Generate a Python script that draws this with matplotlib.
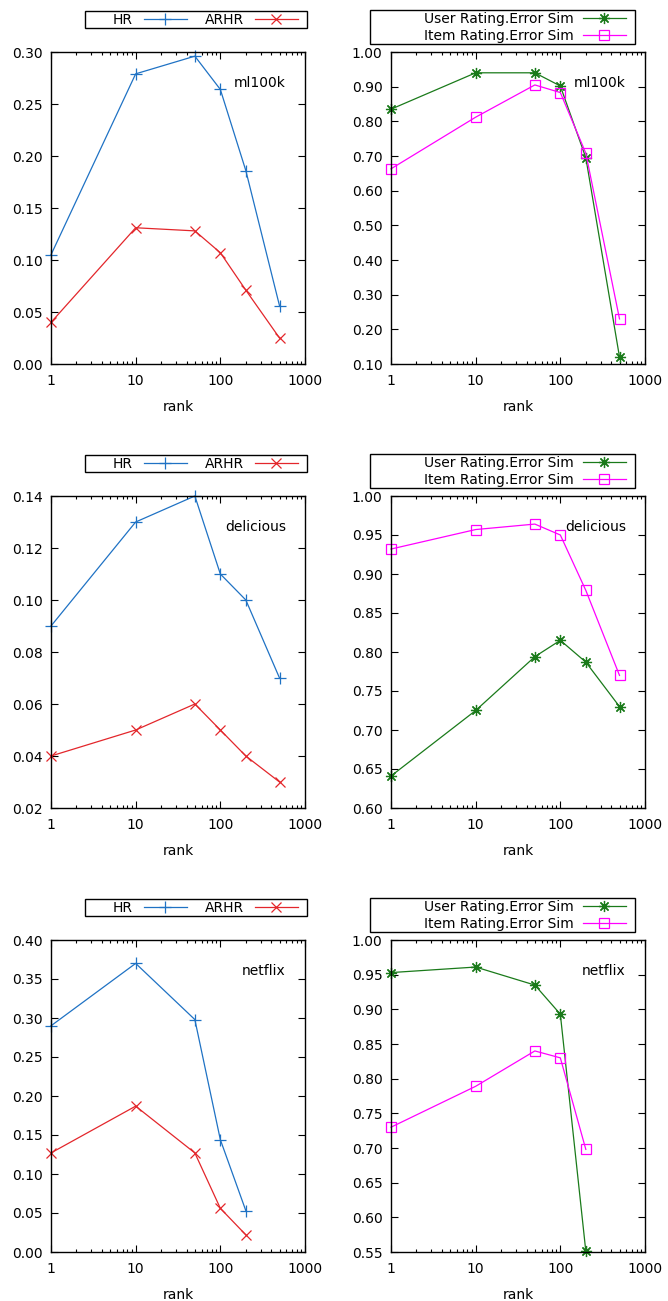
import matplotlib
matplotlib.use('Agg')
import matplotlib.pyplot as plt
from matplotlib.patches import Rectangle
from matplotlib.ticker import FixedLocator, LogLocator, NullFormatter, FuncFormatter

# ranks used in the experiments
ranks = [1, 10, 50, 100, 200, 500]
ranks_netflix = [1, 10, 50, 100, 200]

# ml100k
ml_hr = [0.105, 0.279, 0.296, 0.264, 0.186, 0.056]
ml_arhr = [0.040, 0.131, 0.128, 0.107, 0.071, 0.025]
ml_user = [0.835, 0.940, 0.940, 0.902, 0.695, 0.120]
ml_item = [0.663, 0.812, 0.905, 0.883, 0.708, 0.230]

# delicious
del_hr = [0.09, 0.13, 0.14, 0.11, 0.10, 0.07]
del_arhr = [0.04, 0.05, 0.06, 0.05, 0.04, 0.03]
del_user = [0.641, 0.725, 0.794, 0.815, 0.787, 0.730]
del_item = [0.932, 0.957, 0.964, 0.950, 0.879, 0.770]

# netflix
nf_hr = [0.290, 0.370, 0.298, 0.144, 0.053]
nf_arhr = [0.127, 0.187, 0.127, 0.056, 0.022]
nf_user = [0.953, 0.961, 0.935, 0.893, 0.551]
nf_item = [0.730, 0.789, 0.840, 0.830, 0.698]

datasets = ['ml100k', 'delicious', 'netflix']

plt.rcParams['font.family'] = 'DejaVu Sans'
plt.rcParams['font.size'] = 10

W, H = 668, 1301
fig = plt.figure(figsize=(W / 100, H / 100), dpi=100)

blue = '#1f72c4'
red = '#e3262b'
green = '#1a7a1a'
magenta = '#ff00ff'
star = (8, 2, 0)


def make_axes(x0, x1, y0, y1):
    return fig.add_axes([x0 / W, 1 - y1 / H, (x1 - x0) / W, (y1 - y0) / H])


def key_box(x0, x1, y0, y1):
    # gnuplot style key frame, drawn separately so it can be wider than the entries
    fig.add_artist(Rectangle((x0 / W, 1 - y1 / H), (x1 - x0) / W, (y1 - y0) / H,
                             transform=fig.transFigure, fill=False,
                             edgecolor='black', lw=1.0))


def style(ax, ylo, yhi, step, fmt):
    ax.set_xscale('log')
    ax.set_xlim(1, 1000)
    ax.set_ylim(ylo, yhi)
    ax.xaxis.set_major_locator(FixedLocator([1, 10, 100, 1000]))
    ax.xaxis.set_minor_locator(LogLocator(base=10, subs=range(2, 10)))
    ax.xaxis.set_minor_formatter(NullFormatter())
    ax.xaxis.set_major_formatter(FuncFormatter(lambda v, p: '%d' % v))
    n = int(round((yhi - ylo) / step))
    ax.yaxis.set_major_locator(FixedLocator([ylo + i * step for i in range(n + 1)]))
    ax.yaxis.set_major_formatter(FuncFormatter(lambda v, p: fmt % v))
    ax.tick_params(which='both', direction='in', top=True, right=True)
    ax.tick_params(which='major', length=5, width=0.8)
    ax.tick_params(which='minor', length=2.5, width=0.8)
    ax.tick_params(axis='x', pad=7)
    ax.tick_params(axis='y', pad=6)
    for s in ax.spines.values():
        s.set_linewidth(1.0)
    ax.set_xlabel('rank', labelpad=9)


left_ranges = [(0.0, 0.30, 0.05), (0.02, 0.14, 0.02), (0.0, 0.40, 0.05)]
right_ranges = [(0.10, 1.00, 0.10), (0.60, 1.00, 0.05), (0.55, 1.00, 0.05)]
hr_all = [ml_hr, del_hr, nf_hr]
arhr_all = [ml_arhr, del_arhr, nf_arhr]
user_all = [ml_user, del_user, nf_user]
item_all = [ml_item, del_item, nf_item]
x_all = [ranks, ranks, ranks_netflix]

for row in range(3):
    off = [0, 444, 888][row]
    x = x_all[row]

    # left panel: HR / ARHR
    ax = make_axes(51, 305, 52 + off, 364 + off)
    ax.plot(x, hr_all[row], color=blue, lw=0.9, marker='+', ms=8, mew=0.9, label='HR', clip_on=False)
    ax.plot(x, arhr_all[row], color=red, lw=0.9, marker='x', ms=7, mew=0.9, label='ARHR', clip_on=False)
    lo, hi, st = left_ranges[row]
    style(ax, lo, hi, st, '%.2f')
    ax.text(0.925, 0.90, datasets[row], transform=ax.transAxes, ha='right', va='center')
    key_box(85, 307, 11 + off, 28 + off)
    ax.legend(loc='center right', bbox_to_anchor=(298 / W, 1 - (19.5 + off) / H),
              bbox_transform=fig.transFigure, ncol=2, markerfirst=False,
              frameon=False, handlelength=3.1, borderpad=0, borderaxespad=0,
              handletextpad=0.8, columnspacing=1.3)

    # right panel: user / item similarity
    ax = make_axes(391, 645, 52 + off, 364 + off)
    ax.plot(x, user_all[row], color=green, lw=0.9, marker=star, ms=8, mew=0.9,
            label='User Rating.Error Sim', clip_on=False)
    ax.plot(x, item_all[row], color=magenta, lw=0.9, marker='s', ms=7, mew=0.9, mfc='none',
            label='Item Rating.Error Sim', clip_on=False)
    lo, hi, st = right_ranges[row]
    style(ax, lo, hi, st, '%.2f')
    ax.text(0.925, 0.90, datasets[row], transform=ax.transAxes, ha='right', va='center')
    key_box(370, 635, 10 + off, 44 + off)
    ax.legend(loc='center right', bbox_to_anchor=(626 / W, 1 - (27.5 + off) / H),
              bbox_transform=fig.transFigure, ncol=1, markerfirst=False,
              frameon=False, handlelength=3.1, borderpad=0, borderaxespad=0,
              handletextpad=0.65, labelspacing=0.25)

fig.savefig('out.png', dpi=100)
